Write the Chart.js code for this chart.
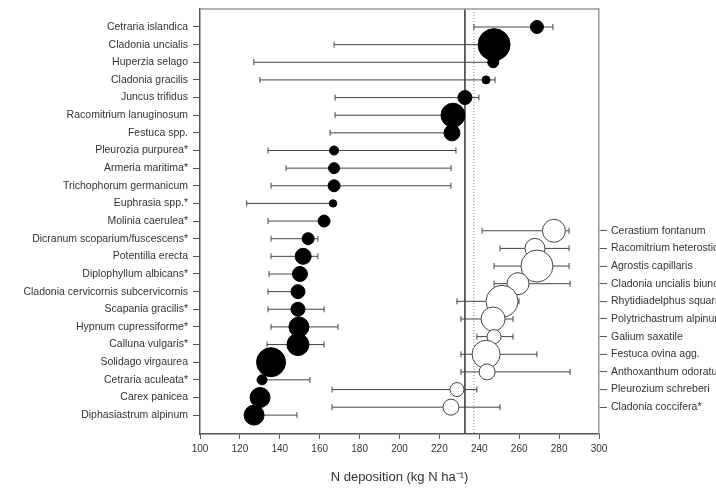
<!DOCTYPE html>
<html lang="en">
<head>
<meta charset="UTF-8">
<title>N deposition</title>
<script src="https://cdn.jsdelivr.net/npm/chart.js"></script>
<style>
  html, body { margin: 0; padding: 0; background: #fff; }
</style>
</head>
<body>
<canvas id="chart" width="716" height="489"></canvas>
<script>
// species on the left axis (filled circles)
const leftNames = ['Cetraria islandica', 'Cladonia uncialis', 'Huperzia selago', 'Cladonia gracilis',
  'Juncus trifidus', 'Racomitrium lanuginosum', 'Festuca spp.', 'Pleurozia purpurea*',
  'Armeria maritima*', 'Trichophorum germanicum', 'Euphrasia spp.*', 'Molinia caerulea*',
  'Dicranum scoparium/fuscescens*', 'Potentilla erecta', 'Diplophyllum albicans*',
  'Cladonia cervicornis subcervicornis', 'Scapania gracilis*', 'Hypnum cupressiforme*',
  'Calluna vulgaris*', 'Solidago virgaurea', 'Cetraria aculeata*', 'Carex panicea',
  'Diphasiastrum alpinum'];
const leftMean = [268.9, 247.4, 247.0, 243.4, 232.8, 226.8, 226.3, 167.2, 167.2, 167.2, 166.7, 162.2,
  154.2, 151.7, 150.1, 149.1, 149.1, 149.6, 149.1, 135.6, 131.1, 130.1, 127.1];
const leftLow = [237.3, 167.2, 127.0, 130.0, 167.7, 167.7, 165.2, 134.1, 143.1, 135.6, 123.4, 134.1,
  135.6, 135.6, 134.6, 134.1, 134.1, 135.6, 133.6, null, null, null, null];
const leftHigh = [276.9, null, null, 247.9, 239.8, null, null, 228.3, 225.8, 225.8, null, null,
  159.1, 159.1, null, null, 162.2, 169.2, 162.2, null, 155.1, null, 148.6];
const leftSize = [6.5, 16, 5.5, 4, 7, 12, 8, 4.5, 5.5, 6, 3.7, 6, 6, 8, 7.5, 7, 7, 10, 11, 14.5, 5, 10, 10];

// species on the right axis (open circles)
const rightNames = ['Cerastium fontanum', 'Racomitrium heterostichum', 'Agrostis capillaris',
  'Cladonia uncialis biuncialis', 'Rhytidiadelphus squarrosus', 'Polytrichastrum alpinum',
  'Galium saxatile', 'Festuca ovina agg.', 'Anthoxanthum odoratum', 'Pleurozium schreberi',
  'Cladonia coccifera*'];
const rightMean = [277.4, 267.9, 268.9, 259.4, 251.4, 246.9, 247.4, 243.4, 243.9, 228.8, 225.8];
const rightLow = [241.4, 250.4, 247.4, 247.4, 228.8, 230.8, 238.8, 230.8, 230.8, 166.2, 166.2];
const rightHigh = [285.0, 285.0, 285.0, 285.5, 259.9, 256.9, 256.9, 268.9, 285.5, 238.8, 250.4];
const rightSize = [11.5, 10, 16, 11, 16, 12, 7, 14, 8, 7, 8];

// reference deposition lines
const refSolid = 232.8;
const refDotted = 237.3;

const xTicks = [100, 120, 140, 160, 180, 200, 220, 240, 260, 280, 300];

const rightStart = 11.55; // row where the right-hand list begins
const family = 'Liberation Sans, Arial, sans-serif';
const labelFont = { family, size: 10.5 };
const textColor = '#333';

const leftRows = leftNames.map((_, i) => i);
const rightRows = rightNames.map((_, j) => rightStart + j);

// big bubbles should not push the plot area inwards
Chart.BubbleController.prototype.getMaxOverflow = () => false;

const errorBars = {
  id: 'errorBars',
  beforeDatasetsDraw(chart) {
    const { ctx, chartArea, scales: { x, y } } = chart;
    ctx.save();

    // reference lines
    ctx.strokeStyle = '#333';
    ctx.lineWidth = 1.5;
    ctx.beginPath();
    ctx.moveTo(x.getPixelForValue(refSolid), chartArea.top);
    ctx.lineTo(x.getPixelForValue(refSolid), chartArea.bottom);
    ctx.stroke();
    ctx.strokeStyle = '#888';
    ctx.lineWidth = 1;
    ctx.setLineDash([1, 2]);
    ctx.beginPath();
    ctx.moveTo(x.getPixelForValue(refDotted), chartArea.top);
    ctx.lineTo(x.getPixelForValue(refDotted), chartArea.bottom);
    ctx.stroke();
    ctx.setLineDash([]);

    ctx.strokeStyle = '#444';
    ctx.lineWidth = 1;
    function draw(means, lows, highs, rows) {
      means.forEach((m, i) => {
        const py = y.getPixelForValue(rows[i]);
        const a = x.getPixelForValue(lows[i] ?? m);
        const b = x.getPixelForValue(highs[i] ?? m);
        ctx.beginPath();
        ctx.moveTo(a, py);
        ctx.lineTo(b, py);
        if (lows[i] != null) { ctx.moveTo(a, py - 3); ctx.lineTo(a, py + 3); }
        if (highs[i] != null) { ctx.moveTo(b, py - 3); ctx.lineTo(b, py + 3); }
        ctx.stroke();
      });
    }
    draw(leftMean, leftLow, leftHigh, leftRows);
    draw(rightMean, rightLow, rightHigh, rightRows);
    ctx.restore();
  },
  afterDraw(chart) {
    const { ctx, chartArea } = chart;
    ctx.save();
    ctx.strokeStyle = '#999';
    ctx.lineWidth = 1.5;
    ctx.beginPath();
    ctx.moveTo(chartArea.left, chartArea.top);
    ctx.lineTo(chartArea.right, chartArea.top);
    ctx.stroke();
    ctx.restore();
  }
};

// keep axis sizes fixed so long labels run off the canvas like the original
function fixWidth(w) {
  return axis => { axis.width = w; axis.paddingTop = 0; axis.paddingBottom = 0; };
}

new Chart(document.getElementById('chart'), {
  type: 'bubble',
  data: {
    datasets: [{
      data: leftMean.map((m, i) => ({ x: m, y: leftRows[i], r: leftSize[i] })),
      backgroundColor: '#000',
      borderColor: '#000',
      borderWidth: 1,
      clip: false
    }, {
      data: rightMean.map((m, i) => ({ x: m, y: rightRows[i], r: rightSize[i] })),
      backgroundColor: '#fff',
      borderColor: '#444',
      borderWidth: 1,
      clip: false
    }]
  },
  options: {
    responsive: false,
    animation: false,
    layout: { padding: { top: 9, left: 0, right: 0, bottom: 0 } },
    plugins: { legend: { display: false }, tooltip: { enabled: false } },
    scales: {
      x: {
        type: 'linear',
        min: 100,
        max: 300,
        afterBuildTicks: axis => { axis.ticks = xTicks.map(v => ({ value: v })); },
        afterFit: axis => { axis.height = 55; },
        grid: { drawOnChartArea: false, tickLength: 5, color: '#555' },
        border: { color: '#555', width: 1.5 },
        ticks: { font: { family, size: 10 }, color: textColor, padding: 4, maxRotation: 0 },
        title: {
          display: true,
          text: 'N deposition (kg N ha\u207B\u00B9)',
          font: { family, size: 13 },
          color: textColor,
          padding: { top: 4, bottom: 4 }
        }
      },
      y: {
        type: 'linear',
        position: 'left',
        reverse: true,
        min: -1.02,
        max: 23.07,
        afterBuildTicks: axis => { axis.ticks = leftRows.map(v => ({ value: v })); },
        afterFit: fixWidth(200),
        grid: { drawOnChartArea: false, tickLength: 7, color: '#555' },
        border: { color: '#555', width: 1.5 },
        ticks: { font: labelFont, color: textColor, padding: 5, autoSkip: false, callback: (v, i) => leftNames[i] }
      },
      y2: {
        type: 'linear',
        position: 'right',
        reverse: true,
        min: -1.02,
        max: 23.07,
        afterBuildTicks: axis => { axis.ticks = rightRows.map(v => ({ value: v })); },
        afterFit: fixWidth(117),
        grid: { drawOnChartArea: false, tickLength: 8, color: '#555' },
        border: { color: '#999', width: 1.5 },
        ticks: { font: labelFont, color: textColor, padding: 4, autoSkip: false, callback: (v, i) => rightNames[i] }
      }
    }
  },
  plugins: [errorBars]
});
</script>
</body>
</html>
